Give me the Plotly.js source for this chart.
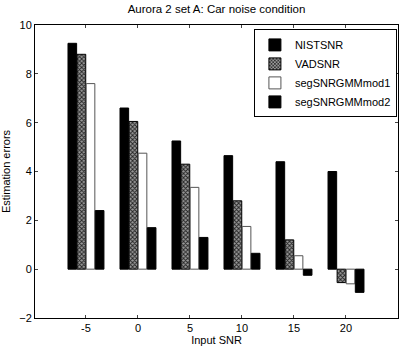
<!DOCTYPE html>
<html><head><meta charset="utf-8">
<script src="https://cdn.plot.ly/plotly-3.0.1.min.js"></script>
<style>html,body{margin:0;padding:0;background:#fff}#c{width:400px;height:346px}</style>
</head><body><div id="c"></div>
<script>
const snr = [-5, 0, 5, 10, 15, 20];
const nistSNR = [9.25, 6.6, 5.25, 4.65, 4.4, 4.0];
const vadSNR = [8.8, 6.05, 4.3, 2.8, 1.2, -0.55];
const segMod1 = [7.6, 4.75, 3.35, 1.75, 0.55, -0.6];
const segMod2 = [2.4, 1.7, 1.3, 0.65, -0.25, -0.95];
const seriesNames = ['NISTSNR', 'VADSNR', 'segSNRGMMmod1', 'segSNRGMMmod2'];

const data = [
  {type:'bar', x:snr, y:nistSNR, name:seriesNames[0], marker:{color:'#000', line:{color:'#000', width:1}}},
  {type:'bar', x:snr, y:vadSNR, name:seriesNames[1], marker:{color:'#777', pattern:{shape:'x', fgcolor:'#222', bgcolor:'#999', size:3, solidity:0.5}, line:{color:'#000', width:1}}},
  {type:'bar', x:snr, y:segMod1, name:seriesNames[2], marker:{color:'#fff', line:{color:'#555', width:1}}},
  {type:'bar', x:snr, y:segMod2, name:seriesNames[3], marker:{color:'#000', line:{color:'#000', width:1}}}
];
const fontFam = 'Liberation Sans, Arial, sans-serif';
const layout = {
  width:400, height:346,
  margin:{l:35, r:2, t:25, b:28},
  paper_bgcolor:'#fff', plot_bgcolor:'#fff',
  font:{family:fontFam, color:'#000', size:11},
  title:{text:'Aurora 2 set A: Car noise condition', xref:'paper', x:0.5, xanchor:'center', y:0.985, yanchor:'top', font:{size:11.5, family:fontFam}},
  barmode:'group', bargap:0.3, bargroupgap:0.05,
  showlegend:true,
  legend:{x:0.997, xanchor:'right', y:0.985, yanchor:'top', bordercolor:'#000', borderwidth:1, bgcolor:'#fff', font:{size:11, family:fontFam}, tracegroupgap:0, itemwidth:30},
  xaxis:{range:[-9.9, 25], tickvals:snr, ticktext:snr.map(String), ticks:'inside', ticklen:3, showline:true, linecolor:'#000', linewidth:1, mirror:'ticks', showgrid:false, zeroline:false,
    title:{text:'Input SNR', standoff:2, font:{size:11, family:fontFam}}, tickfont:{size:11}},
  yaxis:{range:[-2, 10], dtick:2, ticks:'inside', ticklen:3, showline:true, linecolor:'#000', linewidth:1, mirror:'ticks', showgrid:false, zeroline:false,
    title:{text:'Estimation errors', standoff:6, font:{size:11, family:fontFam}}, tickfont:{size:11}}
};
Plotly.newPlot('c', data, layout, {displayModeBar:false, staticPlot:true});
</script></body></html>
